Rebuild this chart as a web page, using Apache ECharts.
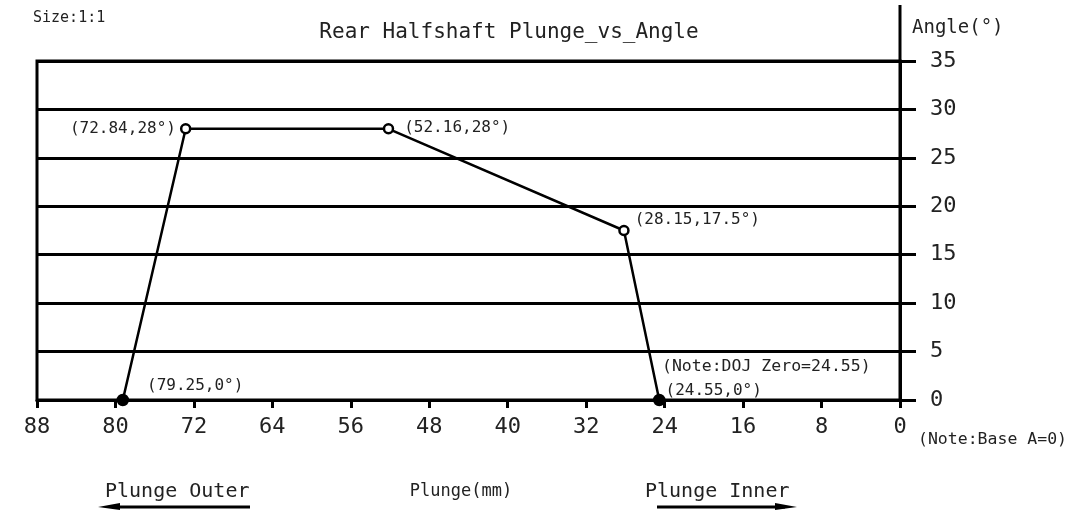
<!DOCTYPE html>
<html><head><meta charset="utf-8">
<script src="https://cdn.jsdelivr.net/npm/echarts@6/dist/echarts.min.js"></script>
<style>html,body{margin:0;padding:0;background:#fff}#c{width:1091px;height:511px}</style>
</head><body><div id="c"></div>
<script>
const plunge = [79.25, 72.84, 52.16, 28.15, 24.55];
const angle = [0, 28, 28, 17.5, 0];
const pointLabels = ['(79.25,0°)', '(72.84,28°)', '(52.16,28°)', '(28.15,17.5°)', '(24.55,0°)'];
const xTicks = [0, 8, 16, 24, 32, 40, 48, 56, 64, 72, 80, 88];
const yTicks = [0, 5, 10, 15, 20, 25, 30, 35];

const FONT = '"DejaVu Sans Mono", "Liberation Mono", monospace';
const TXT = '#222';
const lblPos = ['right','left','right','right','right'];
const lblDist = [18, 4, 10, 5, 0];
const lblOff = [[0,-14],[0,0],[0,-1],[0,-11],[0,-9]];
const filled = [true,false,false,false,true];

const data = plunge.map((x,i)=>({
  value:[x, angle[i]],
  symbol:'circle',
  symbolSize: filled[i] ? 10 : 9,
  itemStyle:{color: filled[i] ? '#000' : '#fff', borderColor:'#000', borderWidth:2.5},
  label:{show:true, formatter: pointLabels[i], position: lblPos[i], distance: lblDist[i],
    offset: lblOff[i], color:TXT, fontFamily:FONT, fontSize:16}
}));

const chart = echarts.init(document.getElementById('c'));
chart.setOption({
  animation:false,
  backgroundColor:'#fff',
  grid:{left:37, right:191, top:61, bottom:111, show:true, borderColor:'#000', borderWidth:3},
  xAxis:{type:'value', inverse:true, min:0, max:88, interval:8,
    axisLine:{show:true, lineStyle:{color:'#000', width:3}},
    axisTick:{show:true, length:8, lineStyle:{color:'#000', width:3}},
    axisLabel:{fontFamily:FONT, fontSize:22, color:TXT, margin:16},
    splitLine:{show:false}},
  yAxis:{type:'value', position:'right', min:0, max:35, interval:5,
    axisLine:{show:true, lineStyle:{color:'#000', width:3}},
    axisTick:{show:true, length:16, lineStyle:{color:'#000', width:3}},
    axisLabel:{fontFamily:FONT, fontSize:22, color:TXT, margin:30},
    splitLine:{show:true, lineStyle:{color:'#000', width:3}}},
  series:[{type:'line', data:data, lineStyle:{color:'#000', width:2.5}, z:5}],
  graphic:[
    {type:'text', style:{x:33, y:18, verticalAlign:'middle', text:'Size:1:1', font:'15px '+FONT, fill:TXT}},
    {type:'text', style:{x:509, y:33, align:'center', verticalAlign:'middle', text:'Rear Halfshaft Plunge_vs_Angle', font:'21px '+FONT, fill:TXT}},
    {type:'text', style:{x:912, y:28, verticalAlign:'middle', text:'Angle(°)', font:'19px '+FONT, fill:TXT}},
    {type:'text', style:{x:918, y:440, verticalAlign:'middle', text:'(Note:Base A=0)', font:'16.5px '+FONT, fill:TXT}},
    {type:'text', style:{x:662, y:367, verticalAlign:'middle', text:'(Note:DOJ Zero=24.55)', font:'16.5px '+FONT, fill:TXT}},
    {type:'text', style:{x:461, y:492, align:'center', verticalAlign:'middle', text:'Plunge(mm)', font:'17px '+FONT, fill:TXT}},
    {type:'line', shape:{x1:900, y1:5, x2:900, y2:61}, style:{stroke:'#000', lineWidth:3}},
    {type:'text', style:{x:105, y:492, verticalAlign:'middle', text:'Plunge Outer', font:'20px '+FONT, fill:TXT}},
    {type:'text', style:{x:645, y:492, verticalAlign:'middle', text:'Plunge Inner', font:'20px '+FONT, fill:TXT}},
    {type:'line', shape:{x1:112, y1:507, x2:250, y2:507}, style:{stroke:'#000', lineWidth:3}},
    {type:'polygon', shape:{points:[[98,507],[120,503],[120,510]]}, style:{fill:'#000'}},
    {type:'line', shape:{x1:657, y1:507, x2:785, y2:507}, style:{stroke:'#000', lineWidth:3}},
    {type:'polygon', shape:{points:[[797,507],[775,503],[775,510]]}, style:{fill:'#000'}}
  ]
});
</script></body></html>
